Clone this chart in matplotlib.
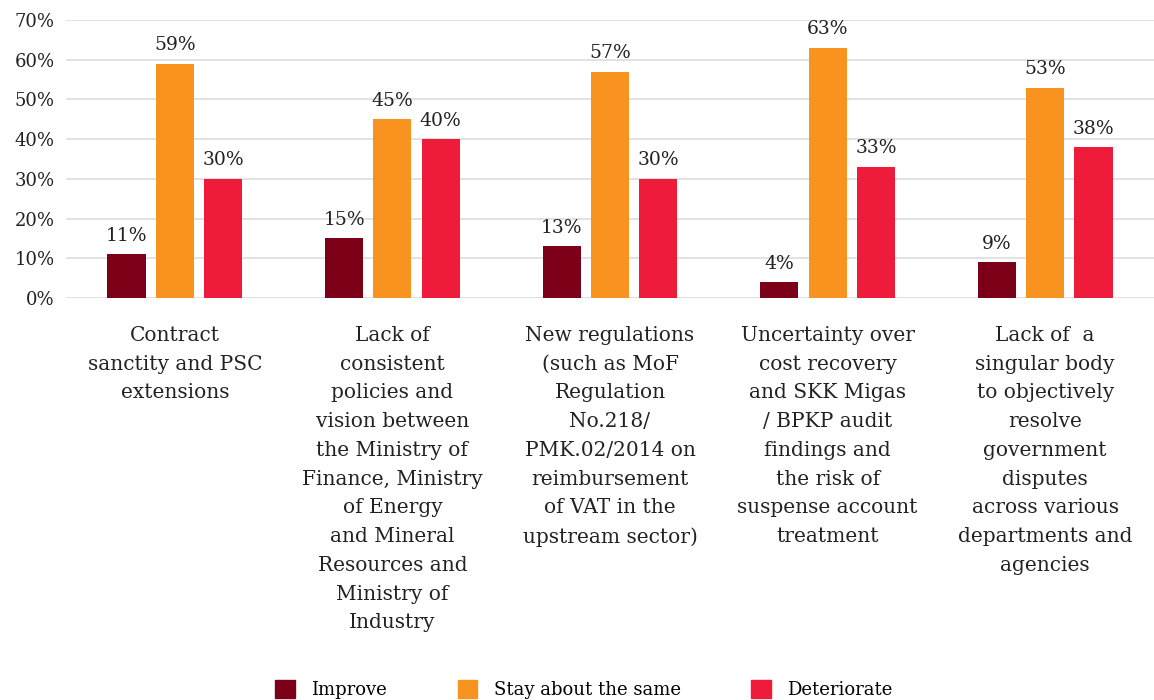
import matplotlib.pyplot as plt
import numpy as np
from matplotlib.patches import Patch

# data
categories = [
    "Contract\nsanctity and PSC\nextensions",
    "Lack of\nconsistent\npolicies and\nvision between\nthe Ministry of\nFinance, Ministry\nof Energy\nand Mineral\nResources and\nMinistry of\nIndustry",
    "New regulations\n(such as MoF\nRegulation\nNo.218/\nPMK.02/2014 on\nreimbursement\nof VAT in the\nupstream sector)",
    "Uncertainty over\ncost recovery\nand SKK Migas\n/ BPKP audit\nfindings and\nthe risk of\nsuspense account\ntreatment",
    "Lack of  a\nsingular body\nto objectively\nresolve\ngovernment\ndisputes\nacross various\ndepartments and\nagencies",
]
improve = [11, 15, 13, 4, 9]
same = [59, 45, 57, 63, 53]
deteriorate = [30, 40, 30, 33, 38]
series_names = ["Improve", "Stay about the same", "Deteriorate"]
colors = ["#7d0019", "#f7931e", "#ee1c3a"]

plt.rcParams['font.family'] = ['DejaVu Serif']

fig = plt.figure(figsize=(11.54, 7.0), dpi=100)
ax = fig.add_axes([66 / 1154, (700 - 298) / 700, (1154 - 66) / 1154, 278 / 700])

x = np.arange(len(categories))
width = 0.175
step = 0.222
for i, (vals, col) in enumerate(zip([improve, same, deteriorate], colors)):
    pos = x + (i - 1) * step
    ax.bar(pos, vals, width=width, color=col, zorder=3)
    for p, v in zip(pos, vals):
        ax.text(p, v + 2.4, f"{v}%", ha='center', va='bottom', fontsize=13.5, color='#222222')

ax.set_xlim(-0.5, len(categories) - 0.5)
ax.set_ylim(0, 70)
ax.set_yticks(range(0, 71, 10))
ax.set_yticklabels([f"{t}%" for t in range(0, 71, 10)], fontsize=13, color='#222222')
ax.grid(axis='y', color='#dddddd', linewidth=1.2, zorder=0)
for s in ax.spines.values():
    s.set_visible(False)
ax.tick_params(axis='y', length=0, pad=8)
ax.set_xticks(x)
ax.set_xticklabels(categories, fontsize=14.5, color='#222222', linespacing=1.65, va='top')
ax.tick_params(axis='x', length=0, pad=20)

handles = [Patch(color=c) for c in colors]
fig.legend(handles, series_names, loc='lower center', bbox_to_anchor=(0.506, -0.022), ncol=3,
           frameon=False, fontsize=13, handlelength=1.1, handleheight=1.1,
           columnspacing=3.9, handletextpad=0.9)

fig.savefig("out.png", dpi=100)
